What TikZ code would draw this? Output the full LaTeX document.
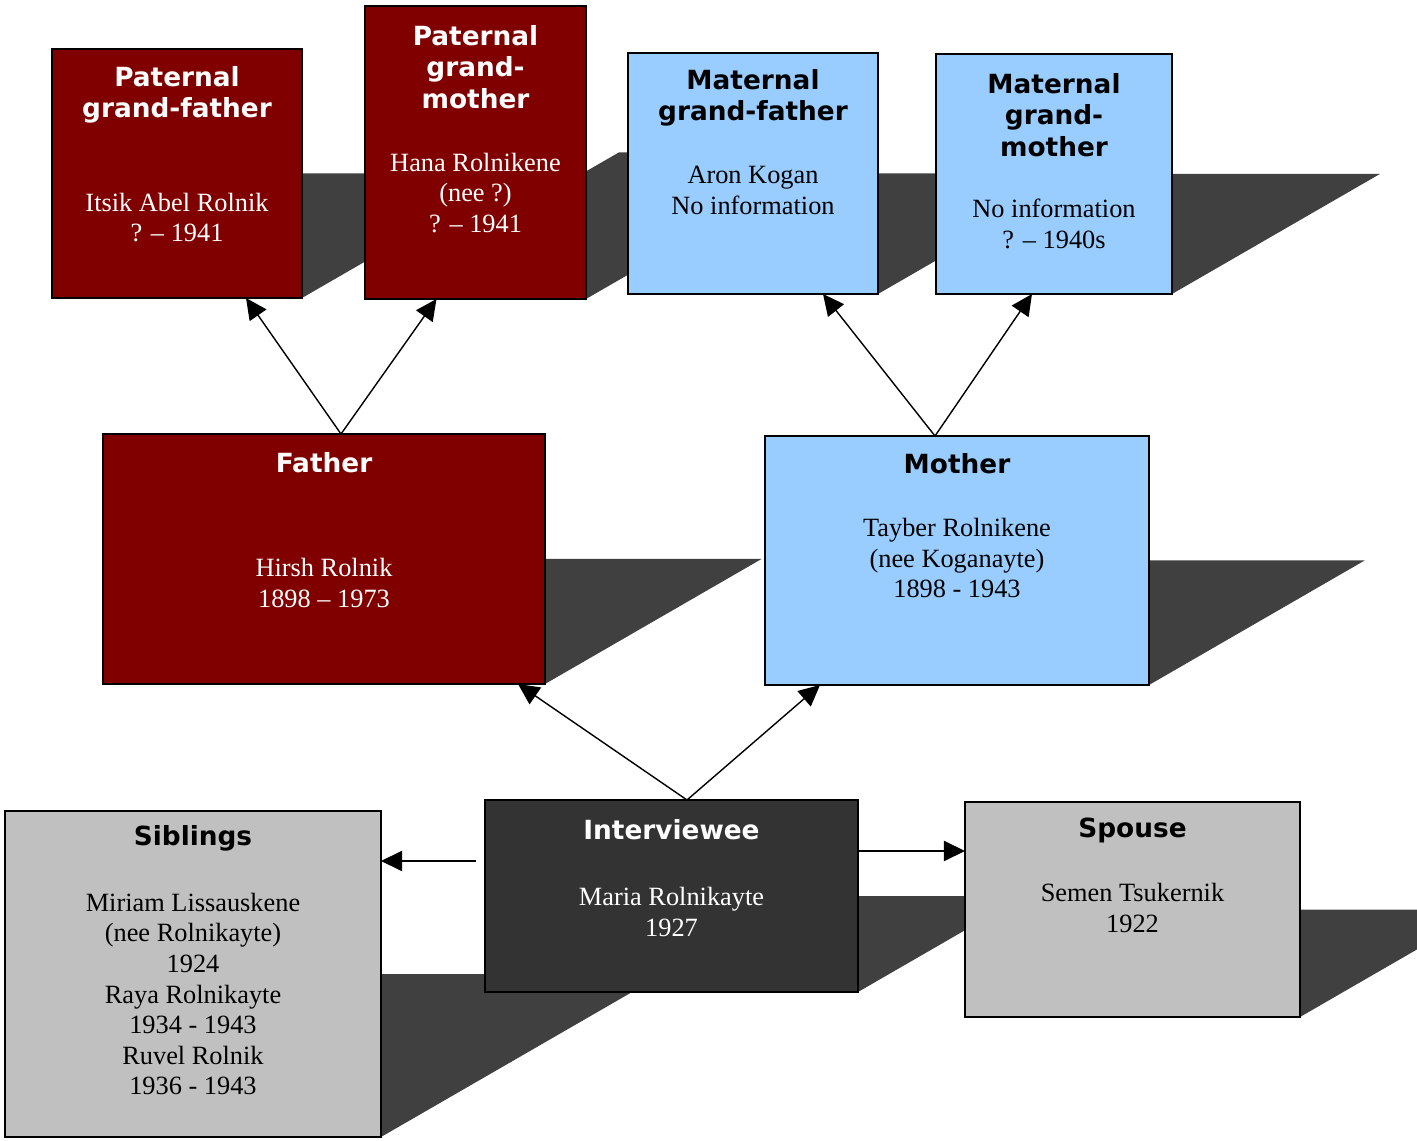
\documentclass[tikz,border=0pt]{standalone}
\usepackage{fontspec}
\setmainfont{Liberation Serif}
\newfontfamily\headfont{DejaVu Sans}
\usetikzlibrary{arrows.meta,calc,backgrounds}
\definecolor{patred}{RGB}{128,0,0}
\definecolor{matblue}{RGB}{153,204,255}
\definecolor{sibgray}{RGB}{192,192,192}
\definecolor{selfgray}{RGB}{51,51,51}
\definecolor{shadowgray}{RGB}{64,64,64}

\begin{document}
\begin{tikzpicture}[x=0.02cm,y=-0.02cm,
person/.style 2 args={draw=black,line width=1pt,rectangle,inner sep=0pt,outer sep=0pt,
    minimum width=#1*0.02cm,minimum height=#2*0.02cm},
head/.style={font=\headfont\bfseries\fontsize{15}{18}\selectfont,align=center,inner sep=0pt},
who/.style={font=\fontsize{15}{17.4}\selectfont,align=center,inner sep=0pt},
rel/.style={-{Triangle[length=12pt,width=11.5pt]},line width=0.8pt},
dropshadow/.style={fill=shadowgray}]
\useasboundingbox (0,0) rectangle (1417,1141);

% grandparents
\node (pgf) [person={250}{249},fill=patred] at (177,173.5) {};
\node (pgf-head) [head,text=white] at (177,95) {Paternal\\grand-father};
\node (pgf-who) [who,text=white] at (177,217.5) {Itsik Abel Rolnik\\? – 1941};

\node (pgm) [person={221}{293},fill=patred] at (475.5,152.5) {};
\node (pgm-head) [head,text=white] at (475.5,67) {Paternal\\grand-\\mother};
\node (pgm-who) [who,text=white] at (475.5,193) {Hana Rolnikene\\(nee ?)\\? – 1941};

\node (mgf) [person={250}{241},fill=matblue] at (753,173.5) {};
\node (mgf-head) [head] at (753,98) {Maternal\\grand-father};
\node (mgf-who) [who] at (753,190.5) {Aron Kogan\\No information};

\node (mgm) [person={236}{240},fill=matblue] at (1054,174) {};
\node (mgm-head) [head] at (1054,115) {Maternal\\grand-\\mother};
\node (mgm-who) [who] at (1054,224) {No information\\? – 1940s};

% parents
\node (father) [person={442}{250},fill=patred] at (324,559) {};
\node (father-head) [head,text=white] at (324,463) {Father};
\node (father-who) [who,text=white] at (324,583) {Hirsh Rolnik\\1898 – 1973};

\node (mother) [person={384}{249},fill=matblue] at (957,560.5) {};
\node (mother-head) [head] at (957,464) {Mother};
\node (mother-who) [who] at (957,558) {Tayber Rolnikene\\(nee Koganayte)\\1898 - 1943};

% interviewee, siblings, spouse
\node (self) [person={373}{192},fill=selfgray] at (671.5,896) {};
\node (self-head) [head,text=white] at (671.5,830) {Interviewee};
\node (self-who) [who,text=white] at (671.5,912) {Maria Rolnikayte\\1927};

\node (spouse) [person={335}{215},fill=sibgray] at (1132.5,909.5) {};
\node (spouse-head) [head] at (1132.5,830) {Spouse};
\node (spouse-who) [who] at (1132.5,908) {Semen Tsukernik\\1922};

\node (sibs) [person={376}{326},fill=sibgray] at (193,974) {};
\node (sibs-head) [head] at (193,838) {Siblings};
\node (sibs-who) [who] at (193,994) {Miriam Lissauskene\\(nee Rolnikayte)\\1924\\Raya Rolnikayte\\1934 - 1943\\Ruvel Rolnik\\1936 - 1943};

\begin{scope}[on background layer]
\clip (0,0) rectangle (1417,1141);
\foreach \b in {pgf,pgm,mgf,mgm,father,mother,self,spouse,sibs}
  \fill[dropshadow] let \p1=(\b.south west), \p2=(\b.north east), \n1={(\y2-\y1)/2} in
    (\x1,\y1) -- (\x2,\y1) -- (\x2+1.732*\n1,\y1+\n1) -- (\x1+1.732*\n1,\y1+\n1) -- cycle;
\end{scope}

\draw[rel] ($(father.north)+(17,0)$) -- ($(pgf.south)+(69,0)$);
\draw[rel] ($(father.north)+(17,0)$) -- ($(pgm.south)+(-39,0)$);
\draw[rel] ($(mother.north)+(-22,0)$) -- ($(mgf.south)+(70,0)$);
\draw[rel] ($(mother.north)+(-22,0)$) -- ($(mgm.south)+(-22,0)$);
\draw[rel] ($(self.north)+(15.5,0)$) -- ($(father.south)+(194,0)$);
\draw[rel] ($(self.north)+(15.5,0)$) -- ($(mother.south)+(-137,0)$);
\draw[rel] ($(self.west)+(-9,-35)$) -- ($(sibs.east)+(0,-113)$);
\draw[rel] ($(self.east)+(0,-45)$) -- ($(spouse.west)+(0,-58.5)$);
\end{tikzpicture}
\end{document}
